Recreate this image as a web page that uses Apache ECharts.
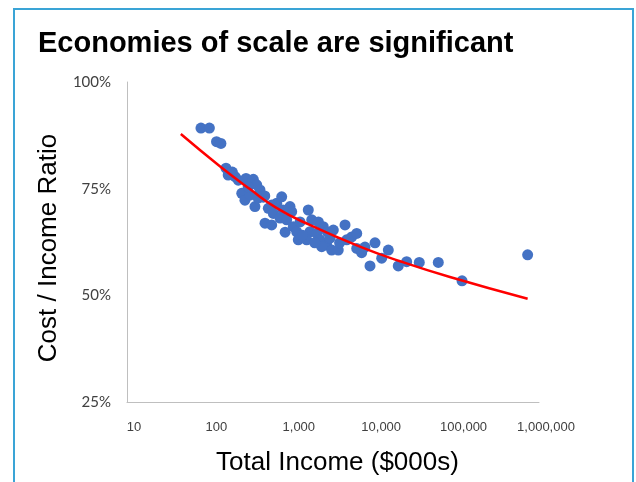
<!DOCTYPE html>
<html>
<head>
<meta charset="utf-8">
<script src="https://cdn.jsdelivr.net/npm/echarts@6/dist/echarts.min.js"></script>
<style>
  html, body { margin: 0; padding: 0; background: #ffffff; }
  #chart { width: 636px; height: 482px; }
</style>
</head>
<body>
<div id="chart"></div>
<script>
// Bank total income ($000s) and cost / income ratio (%)
const incomeValues = [
  79, 100, 122, 138, 159, 169, 205, 224, 278, 341,
  375, 411, 451, 247, 270, 357, 311, 519, 597, 656,
  754, 951, 997, 473, 570, 719, 867, 1043, 1146, 1199,
  1585, 1745, 1664, 1517, 2005, 2411, 2196, 2653, 3191, 3048,
  3664, 4425, 4635, 5333, 6137, 6137, 7727, 7047, 10230, 12330,
  14830, 8890, 19590, 24770, 35240, 59950, 116400, 728000, 2911, 2307,
  1260, 830, 1900, 2700, 3800, 1350, 2100, 780, 470, 570,
  190, 295, 390
];
const costRatioValues = [
  89.2, 89.2, 86.0, 85.6, 79.8, 78.2, 77.8, 77.0, 77.4, 77.2,
  75.9, 74.7, 73.0, 73.9, 72.3, 70.8, 73.5, 70.4, 69.2, 71.6,
  73.1, 70.8, 69.6, 66.9, 66.5, 68.1, 67.7, 66.1, 64.9, 63.0,
  70.0, 67.7, 64.9, 63.0, 64.5, 66.1, 63.0, 61.8, 65.3, 60.6,
  60.6, 66.5, 63.0, 63.7, 64.5, 61.0, 61.3, 60.0, 62.3, 58.7,
  60.6, 56.9, 56.9, 57.9, 57.7, 57.7, 53.4, 59.5, 63.4, 61.4,
  67.2, 64.8, 62.3, 64.8, 62.3, 64.1, 67.2, 70.0, 73.3, 71.2,
  78.9, 75.4, 72.8
];

// Fitted trend curve
const trendIncome = [45, 135, 310, 650, 1650, 6700, 20600, 83000, 728000];
const trendRatio = [87.8, 80.2, 74.9, 70.5, 66.5, 61.4, 58.0, 54.3, 49.2];

// Axis ticks
const xTickValues = [10, 100, 1000, 10000, 100000, 1000000];
const yTickValues = [25, 50, 75, 100];

const scatterData = incomeValues.map((v, i) => [v, costRatioValues[i]]);
const trendData = trendIncome.map((v, i) => [v, trendRatio[i]]);

const chart = echarts.init(document.getElementById('chart'), null, { renderer: 'canvas' });

chart.setOption({
  backgroundColor: '#ffffff',
  animation: false,
  title: {
    text: 'Economies of scale are significant',
    left: 33,
    top: 24,
    textStyle: {
      fontFamily: 'Liberation Sans, Arial, sans-serif',
      fontWeight: 'bold',
      fontSize: 29,
      color: '#000000'
    }
  },
  graphic: [{
    type: 'rect',
    silent: true,
    shape: { x: 14, y: 9, width: 619, height: 520 },
    style: { fill: 'none', stroke: '#3AA4D6', lineWidth: 2 }
  }],
  grid: { left: 127, right: 97, top: 82, bottom: 80 },
  xAxis: {
    type: 'log',
    logBase: 10,
    min: xTickValues[0],
    max: xTickValues[xTickValues.length - 1],
    name: 'Total Income ($000s)',
    nameLocation: 'middle',
    nameGap: 48,
    nameTextStyle: {
      fontFamily: 'Liberation Sans, Arial, sans-serif',
      fontSize: 26,
      color: '#000000',
      padding: [0, 0, 0, 9]
    },
    axisLine: { show: true, lineStyle: { color: '#BFBFBF', width: 1 } },
    axisTick: { show: false },
    splitLine: { show: false },
    axisLabel: {
      margin: 19,
      fontFamily: 'Liberation Sans, Arial, sans-serif',
      fontSize: 13,
      color: '#404040',
      padding: [0, 0, 0, 14],
      formatter: v => Number(v).toLocaleString('en-US')
    }
  },
  yAxis: {
    type: 'value',
    min: yTickValues[0],
    max: yTickValues[yTickValues.length - 1],
    interval: 25,
    name: 'Cost / Income Ratio',
    nameLocation: 'middle',
    nameGap: 65,
    nameRotate: 90,
    nameTextStyle: {
      fontFamily: 'Liberation Sans, Arial, sans-serif',
      fontSize: 26,
      color: '#000000',
      padding: [0, 12, 0, 0]
    },
    axisLine: { show: true, lineStyle: { color: '#BFBFBF', width: 1 } },
    axisTick: { show: false },
    splitLine: { show: false },
    axisLabel: {
      margin: 16,
      fontFamily: 'Lato, Open Sans, sans-serif',
      fontSize: 15,
      color: '#404040',
      formatter: '{value}%'
    }
  },
  series: [
    {
      type: 'scatter',
      data: scatterData,
      symbol: 'circle',
      symbolSize: 11,
      itemStyle: { color: '#4472C4', opacity: 1 },
      z: 2
    },
    {
      type: 'line',
      data: trendData,
      smooth: true,
      showSymbol: false,
      symbol: 'none',
      lineStyle: { color: '#FF0000', width: 2.5 },
      z: 3
    }
  ]
});
</script>
</body>
</html>
